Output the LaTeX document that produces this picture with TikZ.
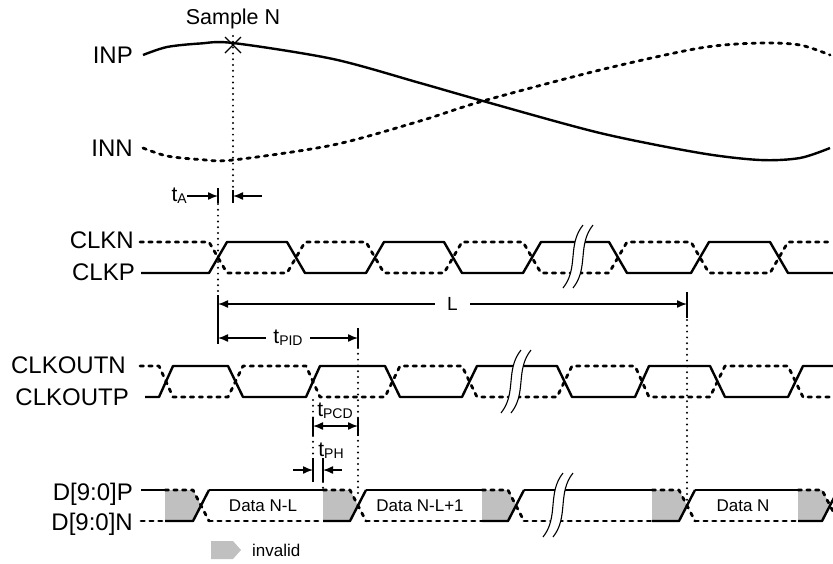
\documentclass[tikz,border=0pt]{standalone}
\usepackage{fontspec}
\setmainfont{Liberation Sans}
\usepackage{tikz}
\usetikzlibrary{arrows.meta}
\definecolor{invalidgray}{RGB}{192,192,192}
\newcommand{\sigfont}{\fontsize{24}{28}\selectfont}
\newcommand{\tsub}[1]{t\raisebox{-2pt}{\fontsize{14}{14}\selectfont #1}}
% break mark: #1 = x of first stroke, #2 = top, #3 = bottom
\newcommand{\waveBreak}[3]{%
  \fill[white] (#1-10,#3) .. controls (#1+6,#3-20) and (#1-6,#2+20) .. (#1+10,#2) -- (#1+20,#2) .. controls (#1+4,#2+20) and (#1+16,#3-20) .. (#1,#3) -- cycle;
  \draw[line width=1.1pt] (#1-10,#3) .. controls (#1+6,#3-20) and (#1-6,#2+20) .. (#1+10,#2)
    (#1,#3) .. controls (#1+16,#3-20) and (#1+4,#2+20) .. (#1+20,#2);}

\begin{document}
\begin{tikzpicture}[x=1pt,y=-1pt,>={Latex[length=10pt,width=8pt]},
  wave/.style={line width=2.4pt,line join=round},
  dwave/.style={line width=2.8pt,line join=round,line cap=round,dash pattern=on 3.4pt off 5.4pt},
  guide/.style={line width=2.2pt,line cap=round,dash pattern=on 0pt off 5.8pt},
  dim/.style={line width=1.4pt},
  tick/.style={line width=1.1pt},
  siglabel/.style={anchor=base east,inner sep=0pt,font=\sigfont},
  tlabel/.style={inner sep=0pt,font=\fontsize{21}{24}\selectfont},
  datalabel/.style={font=\fontsize{17}{20}\selectfont},
  invalid/.style={fill=invalidgray}]
\useasboundingbox (0,0) rectangle (833,563);
\clip (0,0) rectangle (833,563);

% signal names
\node[siglabel] (inp) at (133,63) {INP};
\node[siglabel] (inn) at (133,156) {INN};
\node[siglabel] (clkn) at (134,248) {CLKN};
\node[siglabel] (clkp) at (135,280) {CLKP};
\node[siglabel] (clkoutn) at (126,373) {CLKOUTN};
\node[siglabel] (clkoutp) at (129,405) {CLKOUTP};
\node[siglabel] (dp) at (133,500) {D[9:0]P};
\node[siglabel] (dn) at (133,530) {D[9:0]N};

% analog input
\draw[wave] plot[smooth] coordinates {(143,55) (167,47) (200,43.5) (233,43) (333,59) (420,83) (483,101) (600,133) (700,153) (760,160) (800,158) (830,148)};
\draw[dwave] plot[smooth] coordinates {(143,148) (167,156) (200,159.5) (233,160) (333,145) (420,121) (483,101) (600,70) (700,48) (760,43) (800,45) (830,55)};
\node[font=\fontsize{21.5}{24}\selectfont,anchor=base] (sample) at (233,24) {Sample N};
\coordinate (sN) at (233,45);
\draw[tick] ([shift={(-8,-8)}]sN) -- ([shift={(8,8)}]sN) ([shift={(-8,8)}]sN) -- ([shift={(8,-8)}]sN);

% input clock
\draw[wave] (141,273) -- (209,273) -- (227,242) -- (287,242) -- (305,273) -- (366,273) -- (384,242) -- (444,242) -- (462,273) -- (523,273) -- (541,242) -- (609,242) -- (627,273) -- (691,273) -- (709,242) -- (770,242) -- (788,273) -- (833,273);
\draw[dwave] (140,242) -- (209,242) -- (227,273) -- (287,273) -- (305,242) -- (366,242) -- (384,273) -- (444,273) -- (462,242) -- (523,242) -- (541,273) -- (609,273) -- (627,242) -- (691,242) -- (709,273) -- (770,273) -- (788,242) -- (833,242);
\waveBreak{573}{225}{288}

% output clock
\draw[wave] (145,397) -- (159,397) -- (173,366) -- (228,366) -- (243,397) -- (306,397) -- (320,366) -- (385,366) -- (400,397) -- (462,397) -- (477,366) -- (557,366) -- (572,397) -- (635,397) -- (649,366) -- (710,366) -- (725,397) -- (788,397) -- (803,366) -- (833,366);
\draw[dwave] (140,366) -- (159,366) -- (173,397) -- (228,397) -- (243,366) -- (306,366) -- (320,397) -- (385,397) -- (400,366) -- (462,366) -- (477,397) -- (557,397) -- (572,366) -- (635,366) -- (649,397) -- (710,397) -- (725,366) -- (788,366) -- (803,397) -- (833,397);
\waveBreak{511}{350}{413}

% data bus
\foreach \s/\g/\c in {141/165/201, 209/323/358, 366/482/516, 524/652/687, 695/798/830} {
  \draw[wave] (\s,490) -- (\g,490);
  \draw[dwave] (\s,521) -- (\g,521);
  \fill[invalid] (\g,490) -- (\c-8,490) -- (\c,505.5) -- (\c-8,521) -- (\g,521) -- cycle;
  \draw[dwave] (\g,490) -- (\c-8,490) -- (\c+8,521);
  \draw[wave] (\g,521) -- (\c-8,521) -- (\c+8,490);
}
\waveBreak{553}{473}{537}
\node[datalabel] (dNL) at (263,505.5) {Data N-L};
\node[datalabel] (dNL1) at (420,505.5) {Data N-L+1};
\node[datalabel] (dN) at (743,505.5) {Data N};

% guides
\draw[guide] (233,36) -- (233,190);
\draw[guide] (218,204) -- (218,295);
\draw[guide] (687,320) -- (687,500);
\draw[guide] (358,348) -- (358,497);
\draw[guide] (313,400) -- (313,418) (313,436) -- (313,458);
\draw[guide] (323,482) -- (323,490);

% t_A
\draw[tick] (218,188) -- (218,203) (233,190) -- (233,203);
\node[tlabel,anchor=east] (ta) at (187,196) {\tsub{A}};
\coordinate (taL) at (218,196);
\coordinate (taR) at (233,196);
\draw[dim,->] (ta.east) -- (taL);
\draw[dim,->] (262,196) -- (taR);

% latency L and t_PID
\draw[tick] (218,295) -- (218,344) (687,292) -- (687,318) (358,328) -- (358,348);
\coordinate (lL) at (218,304);
\coordinate (lR) at (687,304);
\draw[dim,<->] (lL) -- node[fill=white,inner xsep=12pt,inner ysep=1pt,font=\fontsize{19}{22}\selectfont] (lat) {L} (lR);
\coordinate (pidL) at (218,338);
\coordinate (pidR) at (358,338);
\draw[dim,<->] (pidL) -- node[tlabel,fill=white,inner xsep=7pt] (tpid) {\tsub{PID}} (pidR);

% t_PCD
\draw[tick] (313,418) -- (313,436) (358,418) -- (358,436);
\coordinate (pcdL) at (313,426);
\coordinate (pcdR) at (358,426);
\draw[dim,<->] (pcdL) -- (pcdR);
\node[tlabel,anchor=base] (tpcd) at (335,416) {\tsub{PCD}};

% t_PH
\draw[tick] (313,458) -- (313,482) (323,458) -- (323,482);
\coordinate (phL) at (313,470);
\coordinate (phR) at (323,470);
\draw[dim,->] (293,470) -- (phL);
\draw[dim,->] (342,470) -- (phR);
\node[tlabel,anchor=base] (tph) at (331,456) {\tsub{PH}};

% legend
\fill[invalid] (211,541) -- (233,541) -- (241,550) -- (233,559) -- (211,559) -- cycle;
\node[datalabel,anchor=base west,inner sep=0pt] (inv) at (252,556) {invalid};
\end{tikzpicture}
\end{document}
